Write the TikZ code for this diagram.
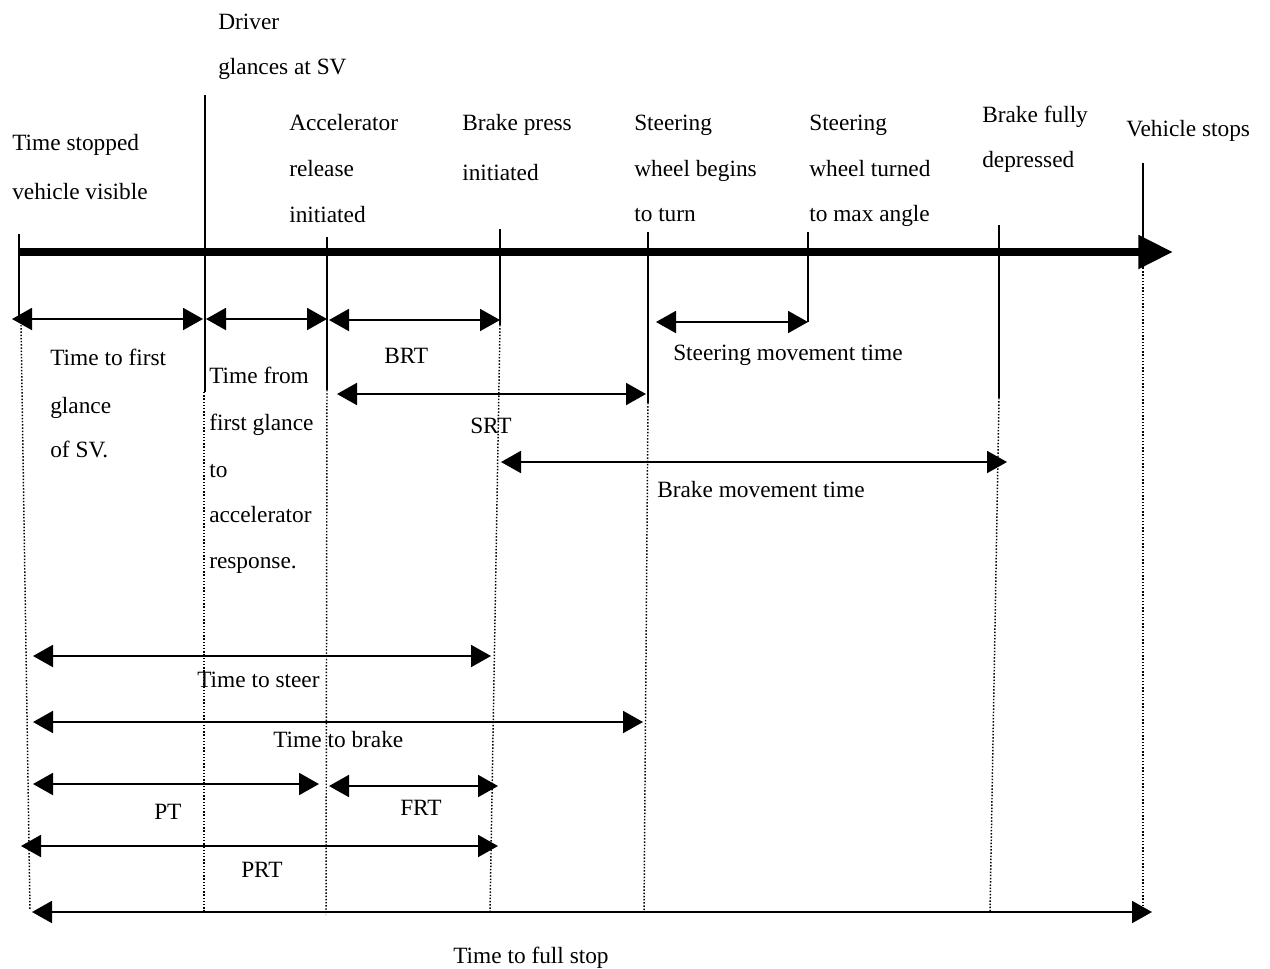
\documentclass[tikz,border=0pt]{standalone}
\usepackage{fontspec}
\setmainfont{Liberation Serif}
\usetikzlibrary{arrows.meta}
\begin{document}
\begin{tikzpicture}[x=0.75pt,y=-0.75pt,
  lbl/.style={anchor=base west,inner sep=0pt,font=\fontsize{17.5pt}{21pt}\selectfont},
  tick/.style={line width=1.5pt},
  dotline/.style={line width=1.1pt,dash pattern=on 1.1pt off 1.3pt},
  dim/.style={line width=1.5pt,{Triangle[length=15pt,width=16.5pt]}-{Triangle[length=15pt,width=16.5pt]}},
  axisline/.style={line width=6pt,-{Triangle[length=26pt,width=24pt]}}]
\useasboundingbox (0,0) rectangle (1270,968);
% axis
\coordinate (ax0) at (18,252);
\coordinate (ax1) at (1173,252);
\draw[axisline] (ax0) -- (ax1);
% event coordinates (solid ticks)
\coordinate (t0a) at (19,234);   \coordinate (t0b) at (19,320);
\coordinate (t1a) at (205,95);   \coordinate (t1b) at (205,392);
\coordinate (t2a) at (327,237);  \coordinate (t2b) at (327,390);
\coordinate (t3a) at (500,229);  \coordinate (t3b) at (500,325);
\coordinate (t4a) at (648,232);  \coordinate (t4b) at (648,403);
\coordinate (t5a) at (808,232);  \coordinate (t5b) at (808,322);
\coordinate (t6a) at (999,225);  \coordinate (t6b) at (999,398);
\coordinate (t7a) at (1143,163); \coordinate (t7b) at (1143,268);
\foreach \i in {0,...,7} {\draw[tick] (t\i a) -- (t\i b);}
% dotted continuations
\coordinate (d0a) at (21,325);   \coordinate (d0b) at (30,910);
\coordinate (d1a) at (204,392);  \coordinate (d1b) at (204,912);
\coordinate (d2a) at (327,390);  \coordinate (d2b) at (326,915);
\coordinate (d3a) at (500,325);  \coordinate (d3b) at (490,912);
\coordinate (d4a) at (648,403);  \coordinate (d4b) at (644,912);
\coordinate (d6a) at (999,398);  \coordinate (d6b) at (990,912);
\coordinate (d7a) at (1143,268); \coordinate (d7b) at (1143,912);
\foreach \i in {0,1,2,3,4,6,7} {\draw[dotline] (d\i a) -- (d\i b);}
% dimension arrows
\coordinate (a1l) at (12,319);  \coordinate (a1r) at (203,319);
\coordinate (a2l) at (206,319); \coordinate (a2r) at (327,319);
\coordinate (a3l) at (329,320); \coordinate (a3r) at (500,320);
\coordinate (a4l) at (656,322); \coordinate (a4r) at (808,322);
\coordinate (a5l) at (337,394); \coordinate (a5r) at (646,394);
\coordinate (a6l) at (501,462); \coordinate (a6r) at (1007,462);
\coordinate (a7l) at (33,656);  \coordinate (a7r) at (491,656);
\coordinate (a8l) at (33,722);  \coordinate (a8r) at (643,722);
\coordinate (a9l) at (33,784);  \coordinate (a9r) at (319,784);
\coordinate (a10l) at (329,786); \coordinate (a10r) at (498,786);
\coordinate (a11l) at (21,846); \coordinate (a11r) at (498,846);
\coordinate (a12l) at (32,912); \coordinate (a12r) at (1152,912);
\foreach \i in {1,...,12} {\draw[dim] (a\i l) -- (a\i r);}
% top labels
\node[lbl] (drv1) at (218,29) {Driver};
\node[lbl] (drv2) at (218,74) {glances at SV};
\node[lbl] (tsv1) at (12,150) {Time stopped};
\node[lbl] (tsv2) at (12,199) {vehicle visible};
\node[lbl] (acc1) at (289,130) {Accelerator};
\node[lbl] (acc2) at (289,176) {release};
\node[lbl] (acc3) at (289,222) {initiated};
\node[lbl] (bp1) at (462,130) {Brake press};
\node[lbl] (bp2) at (462,180) {initiated};
\node[lbl] (sw1) at (634,130) {Steering};
\node[lbl] (sw2) at (634,176) {wheel begins};
\node[lbl] (sw3) at (634,221) {to turn};
\node[lbl] (sm1) at (809,130) {Steering};
\node[lbl] (sm2) at (809,176) {wheel turned};
\node[lbl] (sm3) at (809,221) {to max angle};
\node[lbl] (bf1) at (982,122) {Brake fully};
\node[lbl] (bf2) at (982,167) {depressed};
\node[lbl] (vs1) at (1126,136) {Vehicle stops};
% interval labels
\node[lbl] (tfg1) at (50,365) {Time to first};
\node[lbl] (tfg2) at (50,413) {glance};
\node[lbl] (tfg3) at (50,457) {of SV.};
\node[lbl] (tfa1) at (209,383) {Time from};
\node[lbl] (tfa2) at (209,430) {first glance};
\node[lbl] (tfa3) at (209,477) {to};
\node[lbl] (tfa4) at (209,522) {accelerator};
\node[lbl] (tfa5) at (209,568) {response.};
\node[lbl] (brt) at (384,363) {BRT};
\node[lbl] (srt) at (470,433) {SRT};
\node[lbl] (smt) at (673,360) {Steering movement time};
\node[lbl] (bmt) at (657,497) {Brake movement time};
\node[lbl] (tts) at (197,687) {Time to steer};
\node[lbl] (ttb) at (273,747) {Time to brake};
\node[lbl] (pt) at (154,819) {PT};
\node[lbl] (frt) at (400,815) {FRT};
\node[lbl] (prt) at (241,877) {PRT};
\node[lbl] (tfs) at (453,963) {Time to full stop};
\end{tikzpicture}
\end{document}
